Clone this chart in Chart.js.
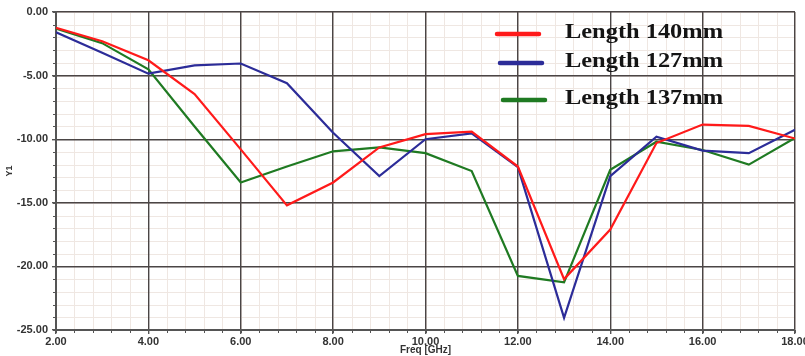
<!DOCTYPE html>
<html>
<head>
<meta charset="utf-8">
<script src="https://cdn.jsdelivr.net/npm/chart.js@4/dist/chart.umd.min.js"></script>
<style>
  html, body { margin: 0; padding: 0; background: #fff; }
  #wrap { width: 805px; height: 356px; }
</style>
</head>
<body>
<div id="wrap"><canvas id="c" width="805" height="356"></canvas></div>
<script>
// Frequency points (GHz)
const freq = [2, 3, 4, 5, 6, 7, 8, 9, 10, 11, 12, 13, 14, 15, 16, 17, 18];

// Return loss (dB) for each conductor length
const len140 = [-1.25, -2.3, -3.8, -6.45, -10.8, -15.2, -13.4, -10.65, -9.6, -9.4, -12.15, -21.0, -17.1, -10.3, -8.85, -8.95, -9.95];
const len127 = [-1.6, -3.2, -4.85, -4.2, -4.05, -5.6, -9.5, -12.9, -10.0, -9.55, -12.2, -24.05, -12.9, -9.8, -10.9, -11.1, -9.25];
const len137 = [-1.3, -2.45, -4.5, -9.0, -13.4, -12.15, -10.95, -10.65, -11.1, -12.5, -20.75, -21.25, -12.4, -10.2, -10.85, -12.0, -9.9];

const seriesLabels = ['Length 140mm', 'Length 127mm', 'Length 137mm'];
const xTicks = [2, 4, 6, 8, 10, 12, 14, 16, 18];
const yTicks = [0, -5, -10, -15, -20, -25];

const toPts = arr => arr.map((v, i) => ({ x: freq[i], y: v }));

// Light minor grid under the main grid, plus small tick marks on the axes
const minorGrid = {
  id: 'minorGrid',
  beforeDraw(chart) {
    const { ctx, chartArea: a, scales: { x, y } } = chart;
    ctx.save();
    ctx.fillStyle = '#fff';
    ctx.fillRect(0, 0, chart.width, chart.height);
    ctx.strokeStyle = '#efe7e2';
    ctx.lineWidth = 1;
    ctx.beginPath();
    for (let v = 2; v <= 18.001; v += 0.4) {
      const px = Math.round(x.getPixelForValue(v)) + 0.5;
      ctx.moveTo(px, a.top); ctx.lineTo(px, a.bottom);
    }
    for (let v = -25; v <= 0; v += 1) {
      const py = Math.round(y.getPixelForValue(v)) + 0.5;
      ctx.moveTo(a.left, py); ctx.lineTo(a.right, py);
    }
    ctx.stroke();
    ctx.restore();
  },
  afterDraw(chart) {
    const { ctx, chartArea: a, scales: { x, y } } = chart;
    ctx.save();
    ctx.strokeStyle = '#555';
    ctx.lineWidth = 1;
    ctx.beginPath();
    for (let v = 2; v <= 18.001; v += 0.4) {
      const px = Math.round(x.getPixelForValue(v)) + 0.5;
      ctx.moveTo(px, a.bottom); ctx.lineTo(px, a.bottom + 3);
    }
    for (let v = -25; v <= 0; v += 1) {
      const py = Math.round(y.getPixelForValue(v)) + 0.5;
      ctx.moveTo(a.left - 3, py); ctx.lineTo(a.left, py);
    }
    ctx.stroke();
    ctx.restore();
  }
};

// Legend drawn inside the plot, upper right
const innerLegend = {
  id: 'innerLegend',
  afterDatasetsDraw(chart) {
    const { ctx, chartArea: a } = chart;
    const rows = [
      { y: a.top + 21, x0: 497, x1: 539 },
      { y: a.top + 50, x0: 500, x1: 542 },
      { y: a.top + 87, x0: 503, x1: 545 }
    ];
    ctx.save();
    chart.data.datasets.forEach((ds, i) => {
      const r = rows[i];
      ctx.strokeStyle = ds.borderColor;
      ctx.lineWidth = 4.5;
      ctx.lineCap = 'round';
      ctx.beginPath();
      ctx.moveTo(r.x0, r.y + 1); ctx.lineTo(r.x1, r.y + 1);
      ctx.stroke();
      ctx.font = 'bold 20px "Liberation Serif", "DejaVu Serif", serif';
      ctx.fillStyle = '#141414';
      ctx.textBaseline = 'middle';
      const w = ctx.measureText(ds.label).width;
      const sx = 158 / w;
      ctx.save();
      ctx.translate(565, r.y);
      ctx.scale(sx, 1);
      ctx.fillText(ds.label, 0, 0);
      ctx.restore();
    });
    ctx.restore();
  }
};

const tickFont = { family: 'Arial, "Liberation Sans", sans-serif', size: 11, weight: 'bold' };

new Chart(document.getElementById('c'), {
  type: 'line',
  data: {
    datasets: [
      { label: seriesLabels[0], data: toPts(len140), borderColor: '#ff1a1a' },
      { label: seriesLabels[1], data: toPts(len127), borderColor: '#2c2c98' },
      { label: seriesLabels[2], data: toPts(len137), borderColor: '#1f7a22' }
    ].map(d => Object.assign(d, { borderWidth: 2.2, pointRadius: 0, tension: 0, fill: false }))
  },
  options: {
    responsive: false,
    animation: false,
    devicePixelRatio: 1,
    layout: { padding: { top: 12, right: 10, left: 0, bottom: 0 } },
    plugins: { legend: { display: false }, tooltip: { enabled: false } },
    scales: {
      x: {
        type: 'linear',
        min: 2, max: 18,
        afterBuildTicks: s => { s.ticks = xTicks.map(v => ({ value: v })); },
        afterFit: s => { s.height = 26; s.paddingLeft = 0; s.paddingRight = 0; },
        ticks: { callback: v => Number(v).toFixed(2), font: tickFont, color: '#333', padding: 1, maxRotation: 0, autoSkip: false },
        grid: { color: '#4a4545', lineWidth: 1.4, tickLength: 4, tickColor: '#555' },
        border: { color: '#555', width: 2 },
        title: { display: true, text: 'Freq [GHz]', font: { family: 'Arial, "Liberation Sans", sans-serif', size: 10, weight: 'bold' }, color: '#333', padding: { top: 0, bottom: 0 } }
      },
      y: {
        type: 'linear',
        min: -25, max: 0,
        afterBuildTicks: s => { s.ticks = yTicks.map(v => ({ value: v })); },
        afterFit: s => { s.width = 56; s.paddingTop = 0; s.paddingBottom = 0; },
        ticks: { callback: v => Number(v).toFixed(2), font: tickFont, color: '#333', padding: 4 },
        grid: { color: '#4a4545', lineWidth: 1.4, tickLength: 4, tickColor: '#555' },
        border: { color: '#555', width: 2 },
        title: { display: true, text: 'Y1', font: { family: 'Arial, "Liberation Sans", sans-serif', size: 9, weight: 'bold' }, color: '#333', padding: { top: 4, bottom: 0 } }
      }
    }
  },
  plugins: [minorGrid, innerLegend]
});
</script>
</body>
</html>
